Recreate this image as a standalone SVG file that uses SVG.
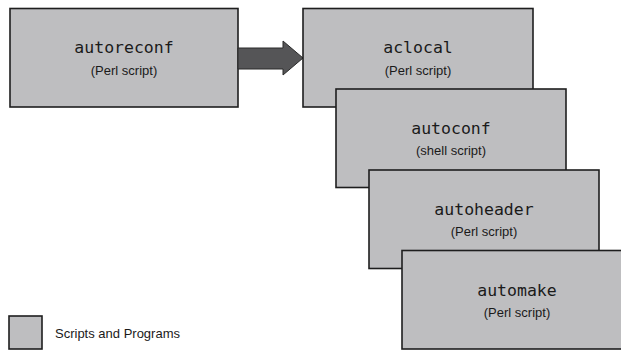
<svg xmlns="http://www.w3.org/2000/svg" width="621" height="350" viewBox="0 0 621 350">
<style>
.box{fill:#bebec0;stroke:#1e1e1e;stroke-width:1.6}
.t{font-family:"DejaVu Sans Mono","Liberation Mono",monospace;font-size:16.5px;fill:#1a1a1a;text-anchor:middle}
.s{font-family:"Liberation Sans","Noto Sans",sans-serif;font-size:13px;fill:#1a1a1a;text-anchor:middle}
.l{font-family:"Liberation Sans","Noto Sans",sans-serif;font-size:13px;fill:#1a1a1a}
</style>
<rect width="621" height="350" fill="#ffffff"/>
<g id="autoreconf">
<rect class="box" x="10" y="8.5" width="228" height="98.5"/>
<text class="t" x="124" y="53">autoreconf</text>
<text class="s" x="124" y="75">(Perl script)</text>
</g>
<g id="connectors">
<path d="M238,48 L283,48 L283,41 L303,58 L283,75 L283,69 L238,69 Z" fill="#555557" stroke="#2a2a2a" stroke-width="1"/>
</g>
<g id="aclocal">
<rect class="box" x="303" y="8.5" width="230" height="98.5"/>
<text class="t" x="418" y="53">aclocal</text>
<text class="s" x="418" y="75">(Perl script)</text>
</g>
<g id="autoconf">
<rect class="box" x="336" y="89" width="230" height="98.5"/>
<text class="t" x="451" y="134">autoconf</text>
<text class="s" x="451" y="155">(shell script)</text>
</g>
<g id="autoheader">
<rect class="box" x="369" y="170" width="230" height="98.5"/>
<text class="t" x="484" y="215">autoheader</text>
<text class="s" x="484" y="236">(Perl script)</text>
</g>
<g id="automake">
<rect class="box" x="402" y="250.5" width="230" height="98.5"/>
<text class="t" x="517" y="296">automake</text>
<text class="s" x="517" y="317">(Perl script)</text>
</g>
<g id="legend">
<rect class="box" x="9" y="316" width="33" height="33"/>
<text class="l" x="55" y="338">Scripts and Programs</text>
</g>
</svg>
